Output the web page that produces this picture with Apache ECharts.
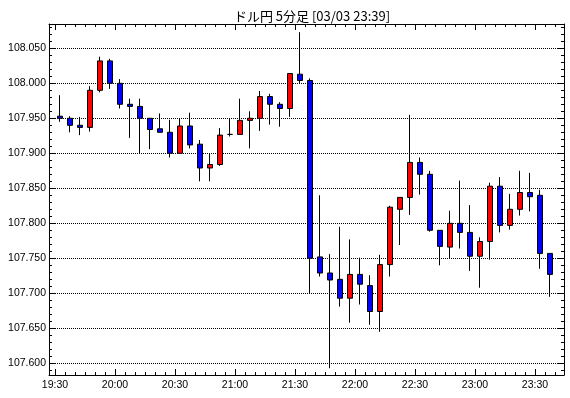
<!DOCTYPE html>
<html>
<head>
<meta charset="utf-8">
<script src="https://cdn.jsdelivr.net/npm/echarts@6/dist/echarts.min.js"></script>
<style>
html,body{margin:0;padding:0;background:#fff;}
#chart{width:570px;height:398px;}
</style>
</head>
<body>
<div id="chart"></div>
<script>
// 5-minute bars, start time of each bar
var times = ["19:30","19:35","19:40","19:45","19:50","19:55","20:00","20:05","20:10","20:15",
             "20:20","20:25","20:30","20:35","20:40","20:45","20:50","20:55","21:00","21:05",
             "21:10","21:15","21:20","21:25","21:30","21:35","21:40","21:45","21:50","21:55",
             "22:00","22:05","22:10","22:15","22:20","22:25","22:30","22:35","22:40","22:45",
             "22:50","22:55","23:00","23:05","23:10","23:15","23:20","23:25","23:30","23:35"];
var opens  = [107.953,107.950,107.940,107.937,107.990,108.032,108.000,107.970,107.967,107.950,
              107.935,107.930,107.900,107.939,107.913,107.879,107.884,107.927,107.927,107.947,
              107.950,107.981,107.970,107.964,108.013,108.004,107.752,107.729,107.720,107.693,
              107.727,107.711,107.674,107.741,107.820,107.837,107.887,107.870,107.790,107.766,
              107.800,107.787,107.753,107.774,107.853,107.797,107.820,107.844,107.840,107.757];
var closes = [107.950,107.940,107.937,107.990,108.032,108.000,107.970,107.967,107.950,107.934,
              107.930,107.900,107.939,107.912,107.879,107.884,107.926,107.927,107.947,107.950,
              107.981,107.970,107.964,108.014,108.004,107.750,107.729,107.719,107.693,107.727,
              107.713,107.674,107.741,107.823,107.837,107.887,107.870,107.790,107.767,107.800,
              107.787,107.753,107.774,107.853,107.797,107.820,107.844,107.838,107.757,107.727];
var lows   = [107.945,107.930,107.926,107.931,107.987,107.992,107.964,107.922,107.900,107.906,
              107.930,107.894,107.900,107.907,107.860,107.860,107.882,107.924,107.927,107.907,
              107.932,107.941,107.938,107.952,108.000,107.699,107.724,107.593,107.681,107.658,
              107.684,107.655,107.645,107.724,107.769,107.812,107.841,107.788,107.740,107.750,
              107.764,107.732,107.708,107.748,107.787,107.791,107.811,107.817,107.735,107.695];
var highs  = [107.983,107.953,107.952,107.996,108.038,108.035,108.006,107.978,107.978,107.950,
              107.957,107.948,107.950,107.958,107.919,107.900,107.936,107.950,107.978,107.960,
              107.989,107.985,107.973,108.014,108.073,108.007,107.840,107.756,107.795,107.777,
              107.751,107.726,107.755,107.825,107.837,107.955,107.894,107.875,107.790,107.818,
              107.861,107.826,107.780,107.858,107.866,107.842,107.875,107.872,107.848,107.757];
var timeTickLabels = ["19:30","20:00","20:30","21:00","21:30","22:00","22:30","23:00","23:30"];
var priceTickLabels = ["107.600","107.650","107.700","107.750","107.800","107.850","107.900","107.950","108.000","108.050"];
var title = "ドル円 5分足 [03/03 23:39]";

var START = "19:30";
function toMin(t){ var p=t.split(":"); return (+p[0])*60+(+p[1]); }
function minutesFromStart(t){ return toMin(t) - toMin(START); }
function fmtMin(v){ var m = Math.round(v) + toMin(START); var h=Math.floor(m/60), mm=m%60; return (h<10?"0":"")+h+":"+(mm<10?"0":"")+mm; }

var BAR = 5; // minutes per bar
var data = times.map(function(t,i){ return [minutesFromStart(t)+BAR/2, opens[i], closes[i], lows[i], highs[i]]; });

var xMajor = timeTickLabels.map(minutesFromStart);
var xMinor = times.map(minutesFromStart).concat([minutesFromStart(times[times.length-1])+BAR]);
var yMajor = priceTickLabels.map(Number);
var yMinor = [];
for (var k = 10759; k <= 10808; k++) yMinor.push(k/100);

var X_MIN = -3, X_MAX = 254.5, Y_MIN = 107.5833, Y_MAX = 108.0847;
var FONT = "Liberation Sans";

function xAxisDef(pos, ticks, len, showLabel, showLine){
  return {
    type:'value', position: pos, min:X_MIN, max:X_MAX, scale:true,
    axisLine:{show:showLine, onZero:false, lineStyle:{color:'#000', width:1}},
    axisTick:{show:true, inside:true, length:len, customValues:ticks, lineStyle:{color:'#000', width:1}},
    axisLabel:{show:showLabel, customValues:ticks, formatter:fmtMin, color:'#000', fontFamily:FONT, fontSize:10.5, margin:5},
    splitLine:{show:false}
  };
}
function yAxisDef(pos, ticks, len, showLabel, showLine, split){
  return {
    type:'value', position: pos, min:Y_MIN, max:Y_MAX, scale:true,
    axisLine:{show:showLine, onZero:false, lineStyle:{color:'#000', width:1}},
    axisTick:{show:true, inside:true, length:len, customValues:ticks, lineStyle:{color:'#000', width:1}},
    axisLabel:{show:showLabel, customValues:ticks, formatter:function(v){return v.toFixed(3);}, color:'#000', fontFamily:FONT, fontSize:10.5, margin:3},
    splitLine:{show:split, lineStyle:{color:'#000', width:1, type:[1,1]}}
  };
}

var chart = echarts.init(document.getElementById('chart'), null, {renderer:'canvas'});
chart.setOption({
  animation:false,
  backgroundColor:'#fff',
  title:{text:title, left:307, top:5, textAlign:'center',
         textStyle:{fontFamily:'Noto Sans CJK JP', fontSize:13, fontWeight:'normal', color:'#000'}},
  grid:{left:49, right:6, top:24, bottom:23, containLabel:false},
  xAxis:[
    xAxisDef('bottom', xMajor, 6, true, true),
    xAxisDef('bottom', xMinor, 3, false, false),
    xAxisDef('top', xMajor, 6, false, true),
    xAxisDef('top', xMinor, 3, false, false)
  ],
  yAxis:[
    yAxisDef('left', yMajor, 6, true, true, true),
    yAxisDef('left', yMinor, 3, false, false, false),
    yAxisDef('right', yMajor, 6, false, true, false),
    yAxisDef('right', yMinor, 3, false, false, false)
  ],
  series:[{
    type:'candlestick',
    xAxisIndex:0, yAxisIndex:0,
    data:data,
    encode:{x:0, y:[1,2,3,4]},
    barWidth:6,
    itemStyle:{color:'#ff0000', color0:'#0000ff', borderColor:'#000', borderColor0:'#000', borderWidth:1},
    clip:false
  }]
});
</script>
</body>
</html>
